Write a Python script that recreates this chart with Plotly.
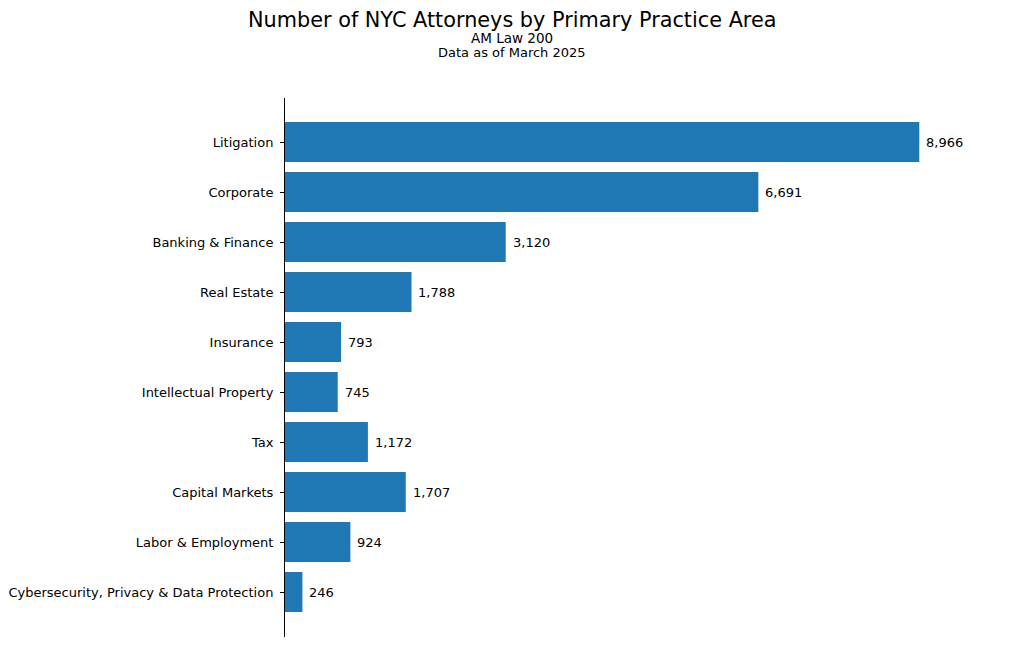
import plotly.graph_objects as go

categories = ["Litigation", "Corporate", "Banking & Finance", "Real Estate", "Insurance",
              "Intellectual Property", "Tax", "Capital Markets", "Labor & Employment",
              "Cybersecurity, Privacy & Data Protection"]
values = [8966, 6691, 3120, 1788, 793, 745, 1172, 1707, 924, 246]
value_labels = [f"{v:,}" for v in values]

title = "Number of NYC Attorneys by Primary Practice Area"
subtitle1 = "AM Law 200"
subtitle2 = "Data as of March 2025"

FONT = "DejaVu Sans"
OFF = 8  # page body margin
W, H = 1024 - OFF, 646 - OFF
ML, MR, MT, MB = 285 - OFF, 73, 98 - OFF, 9
ph = H - MT - MB
pw = W - ML - MR

fig = go.Figure(go.Bar(
    x=values, y=categories, orientation="h",
    marker=dict(color="#1f77b4", line=dict(width=0)),
    width=0.8, hoverinfo="skip",
))

annotations = []
for c, v, t in zip(categories, values, value_labels):
    annotations.append(dict(x=v, y=c, xref="x", yref="y", text=t, showarrow=False,
                            xanchor="left", yanchor="middle", xshift=5,
                            font=dict(family=FONT, size=13, color="#000")))

def py(page_y):
    return (H - MB - (page_y - OFF)) / ph

def px(page_x):
    return (page_x - OFF - ML) / pw

annotations += [
    dict(x=px(512), y=py(20), xref="paper", yref="paper", text=title, showarrow=False,
         xanchor="center", yanchor="middle", borderpad=0,
         font=dict(family=FONT, size=20.8, color="#000")),
    dict(x=px(512), y=py(38.5), xref="paper", yref="paper", text=subtitle1, showarrow=False,
         xanchor="center", yanchor="middle", borderpad=0,
         font=dict(family=FONT, size=13.5, color="#000")),
    dict(x=px(512), y=py(53), xref="paper", yref="paper", text=subtitle2, showarrow=False,
         xanchor="center", yanchor="middle", borderpad=0,
         font=dict(family=FONT, size=13, color="#000")),
]

fig.update_layout(
    width=W, height=H,
    margin=dict(l=ML, r=MR, t=MT, b=MB, autoexpand=False),
    paper_bgcolor="white", plot_bgcolor="white",
    showlegend=False,
    annotations=annotations,
    xaxis=dict(visible=False, range=[0, 8966 * 1.05]),
    yaxis=dict(
        type="category", categoryorder="array", categoryarray=categories,
        range=[9.9, -0.88], showline=True, linecolor="#000", linewidth=1,
        ticks="outside", ticklen=4, tickcolor="#000", tickwidth=1,
        showgrid=False, zeroline=False, automargin=False,
        tickfont=dict(family=FONT, size=13, color="#000"),
        ticklabelstandoff=4,
    ),
)

fig.write_html("out.html")
